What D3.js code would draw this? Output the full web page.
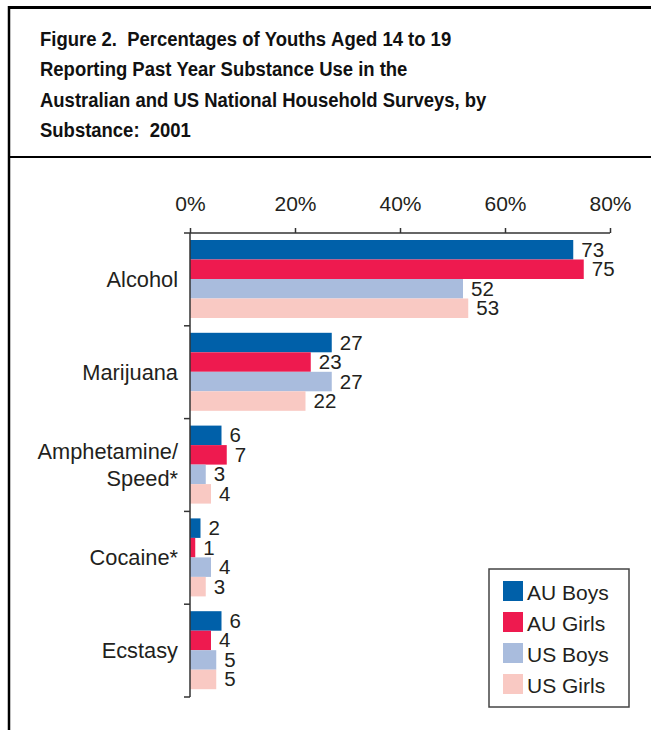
<!DOCTYPE html>
<html>
<head>
<meta charset="utf-8">
<script src="https://cdn.jsdelivr.net/npm/d3@7"></script>
<style>
  html, body { margin: 0; padding: 0; background: #fff; }
  svg { display: block; font-family: "Liberation Sans", Arial, Helvetica, sans-serif; }
</style>
</head>
<body>
<svg id="chart" width="651" height="730"></svg>
<script>
const titleLines = [
  "Figure 2.  Percentages of Youths Aged 14 to 19",
  "Reporting Past Year Substance Use in the",
  "Australian and US National Household Surveys, by",
  "Substance:  2001"
];
const categories = ["Alcohol", "Marijuana", "Amphetamine/\nSpeed*", "Cocaine*", "Ecstasy"];
const seriesNames = ["AU Boys", "AU Girls", "US Boys", "US Girls"];
const auBoys  = [73, 27, 6, 2, 6];
const auGirls = [75, 23, 7, 1, 4];
const usBoys  = [52, 27, 3, 4, 5];
const usGirls = [53, 22, 4, 3, 5];
const tickValues = [0, 20, 40, 60, 80];
const colors = ["#0060a9", "#ee1a4f", "#a9bcdd", "#f9c9c3"];

const seriesValues = [auBoys, auGirls, usBoys, usGirls];
const textColor = "#231f20";

const svg = d3.select("#chart");

// Frame
svg.append("line").attr("x1", 8).attr("x2", 651).attr("y1", 7.5).attr("y2", 7.5)
  .attr("stroke", "#000").attr("stroke-width", 3);
svg.append("line").attr("x1", 9).attr("x2", 9).attr("y1", 6).attr("y2", 730)
  .attr("stroke", "#000").attr("stroke-width", 2.5);
svg.append("line").attr("x1", 8).attr("x2", 651).attr("y1", 157).attr("y2", 157)
  .attr("stroke", "#000").attr("stroke-width", 2);

// Title (slightly condensed bold face, as in the reference)
const title = svg.append("text")
  .attr("transform", "translate(40,0) scale(0.88,1)")
  .attr("font-size", 21).attr("font-weight", "bold").attr("fill", "#111")
  .style("white-space", "pre");
titleLines.forEach((t, i) => {
  title.append("tspan").attr("x", 0).attr("y", 46 + i * 30.5).text(t.replace(/ /g, "\u00a0"));
});

// Scales
const x = d3.scaleLinear().domain([0, 80]).range([190, 610]);
const y = d3.scaleBand().domain(categories).range([233, 697]).paddingInner(0).paddingOuter(0);
const inner = d3.scaleBand().domain(seriesNames).range([7, 85]);

// Bars
const g = svg.append("g");
categories.forEach((cat, ci) => {
  seriesNames.forEach((s, si) => {
    const v = seriesValues[si][ci];
    const y0 = y(cat) + inner(s);
    g.append("rect")
      .attr("x", x(0)).attr("y", y0)
      .attr("width", x(v) - x(0)).attr("height", inner.bandwidth())
      .attr("fill", colors[si]);
    g.append("text")
      .attr("x", x(v) + 8).attr("y", y0 + inner.bandwidth() / 2 + 7)
      .attr("font-size", 20.5).attr("fill", textColor)
      .text(v);
  });
});

// Top axis
const topAxis = d3.axisTop(x).tickValues(tickValues).tickFormat(d => d + "%")
  .tickSize(5).tickPadding(17);
const ta = svg.append("g").attr("transform", "translate(0,233)").call(topAxis);
ta.select(".domain").attr("stroke", "#333").attr("stroke-width", 1.5).attr("d", "M190,0H610");
ta.selectAll(".tick line").attr("stroke", "#333").attr("stroke-width", 1.5);
ta.selectAll(".tick text").attr("font-size", 21).attr("fill", textColor)
  .attr("font-family", "Liberation Sans, Arial, sans-serif");

// Left axis (band boundaries)
svg.append("line").attr("x1", 190).attr("x2", 190).attr("y1", 233).attr("y2", 697)
  .attr("stroke", "#333").attr("stroke-width", 1.5);
const bounds = categories.map(c => y(c)).concat([y.range()[1]]);
bounds.forEach(b => {
  svg.append("line").attr("x1", 184).attr("x2", 190).attr("y1", b).attr("y2", b)
    .attr("stroke", "#333").attr("stroke-width", 1.5);
});

// Category labels
categories.forEach(cat => {
  const lines = cat.split("\n");
  const cy = y(cat) + y.bandwidth() / 2;
  const lh = 27;
  const t = svg.append("text").attr("text-anchor", "end").attr("font-size", 21.8).attr("fill", textColor);
  lines.forEach((ln, i) => {
    t.append("tspan").attr("x", 178)
      .attr("y", cy + 7.5 + (i - (lines.length - 1) / 2) * lh)
      .text(ln);
  });
});

// Legend
const lg = svg.append("g");
lg.append("rect").attr("x", 489).attr("y", 569).attr("width", 140).attr("height", 138)
  .attr("fill", "#fff").attr("stroke", "#444").attr("stroke-width", 1.5);
seriesNames.forEach((s, i) => {
  const yy = 581 + i * 31;
  lg.append("rect").attr("x", 503).attr("y", yy).attr("width", 20).attr("height", 20)
    .attr("fill", colors[i]);
  lg.append("text").attr("x", 527).attr("y", yy + 18.5).attr("font-size", 21)
    .attr("fill", textColor).text(s);
});
</script>
</body>
</html>
